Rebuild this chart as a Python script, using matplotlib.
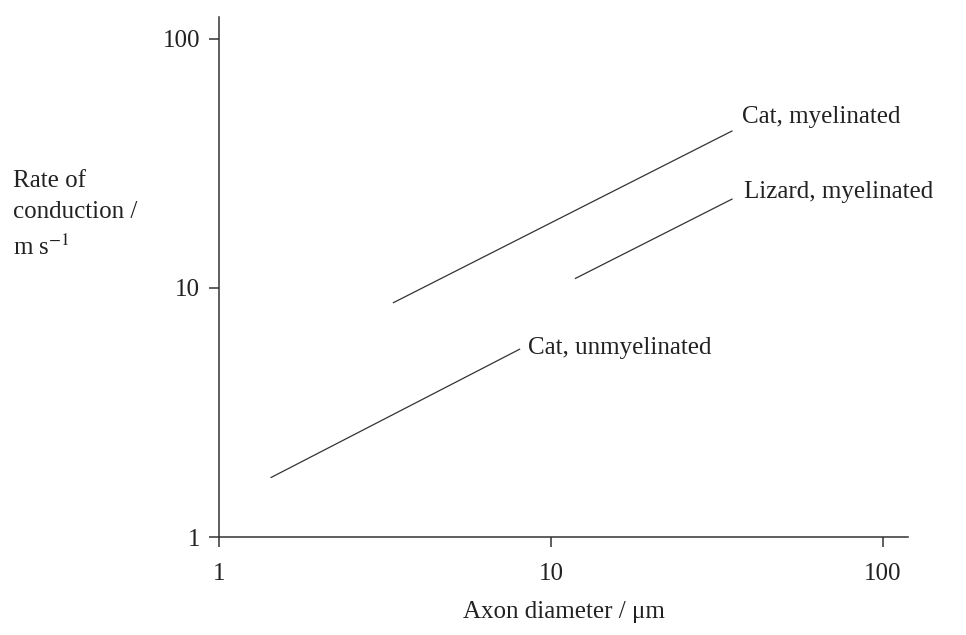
import matplotlib
matplotlib.use("Agg")
import matplotlib.pyplot as plt

plt.rcParams["font.family"] = ["Liberation Serif", "DejaVu Serif"]
plt.rcParams["mathtext.fontset"] = "stix"

# values (log-log)
series_names = ["Cat, myelinated", "Lizard, myelinated", "Cat, unmyelinated"]
diam_cat_myel = [3.34, 35.2]
rate_cat_myel = [8.71, 42.8]
diam_liz_myel = [11.8, 35.2]
rate_liz_myel = [10.9, 22.8]
diam_cat_unmyel = [1.43, 8.07]
rate_cat_unmyel = [1.73, 5.69]
tick_vals = [1, 10, 100]
tick_labels = ["1", "10", "100"]

INK = "#333333"
TXT = "#222222"
FS = 18

fig = plt.figure(figsize=(9.66, 6.35), dpi=100)
ax = fig.add_axes([0.2267, 0.1543, 0.7133, 0.8189])
ax.set_xscale("log")
ax.set_yscale("log")
ax.set_xlim(1, 118.9)
ax.set_ylim(1, 122.5)

lines = [(diam_cat_myel, rate_cat_myel), (diam_liz_myel, rate_liz_myel),
         (diam_cat_unmyel, rate_cat_unmyel)]
offsets = [(9, 14), (11, 7), (8, 1)]  # label offset from line end, pixels
for name, (xs, ys), off in zip(series_names, lines, offsets):
    ax.plot(xs, ys, color=INK, lw=0.9, solid_capstyle="butt")
    ax.annotate(name, (xs[-1], ys[-1]), xytext=off, textcoords="offset pixels",
                ha="left", va="center", fontsize=FS, color=TXT)

for s in ["top", "right"]:
    ax.spines[s].set_visible(False)
for s in ["left", "bottom"]:
    ax.spines[s].set_linewidth(1.1)
    ax.spines[s].set_color(INK)

ax.set_xticks(tick_vals)
ax.set_xticklabels(tick_labels)
ax.set_yticks(tick_vals)
ax.set_yticklabels(tick_labels)
ax.minorticks_off()
ax.tick_params(axis="both", length=7.5, width=1.1, color=INK, labelsize=FS,
               labelcolor=TXT)
ax.tick_params(axis="x", pad=11)
ax.tick_params(axis="y", pad=6)

ax.set_xlabel("Axon diameter / μm", fontsize=FS, color=TXT, labelpad=12)
fig.text(0.013, 0.733, "Rate of\nconduction /\nm s$^{-1}$", ha="left", va="top",
         fontsize=FS, color=TXT, linespacing=1.55)

fig.savefig("out.png", dpi=100)
